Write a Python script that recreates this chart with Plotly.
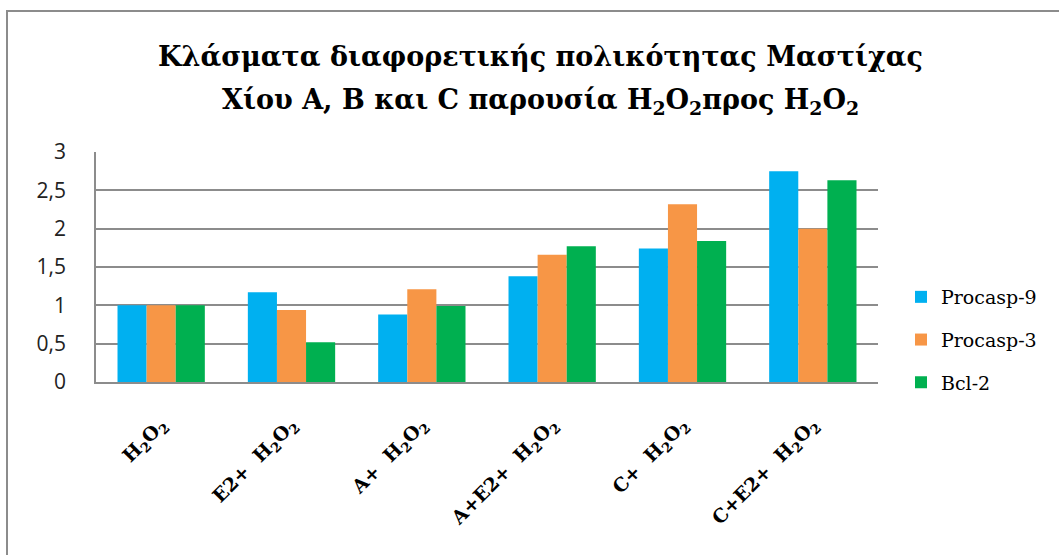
import plotly.graph_objects as go

categories = ["H<sub>2</sub>O<sub>2</sub>", "E2+  H<sub>2</sub>O<sub>2</sub>", "A+  H<sub>2</sub>O<sub>2</sub>",
              "A+E2+  H<sub>2</sub>O<sub>2</sub>", "C+  H<sub>2</sub>O<sub>2</sub>", "C+E2+  H<sub>2</sub>O<sub>2</sub>"]
procasp9 = [1.0, 1.17, 0.88, 1.38, 1.74, 2.75]
procasp3 = [1.0, 0.94, 1.21, 1.66, 2.32, 2.0]
bcl2 = [1.0, 0.52, 0.99, 1.77, 1.84, 2.63]
series_names = ["Procasp-9", "Procasp-3", "Bcl-2"]
colors = ["#00B0F0", "#F79646", "#00B050"]
y_ticks = [0, 0.5, 1, 1.5, 2, 2.5, 3]
y_labels = ["0", "0,5", "1", "1,5", "2", "2,5", "3"]
title_lines = ["<b>Κλάσματα διαφορετικής πολικότητας Μαστίχας</b>",
               "<b>Χίου A, B και C παρουσία H<sub>2</sub>O<sub>2</sub>προς H<sub>2</sub>O<sub>2</sub></b>"]

SERIF = "DejaVu Serif"
SANS = "Open Sans"

W, H = 1059, 555
L, R, T, B = 96, 1059 - 878, 152, 555 - 382
pw, ph = W - L - R, H - T - B

fig = go.Figure()
for i, (name, vals) in enumerate(zip(series_names, [procasp9, procasp3, bcl2])):
    fig.add_trace(go.Bar(x=categories, y=vals, name=name, marker_color=colors[i],
                         marker_line_width=0, legendgroup=name))

def px_x(p):
    return (p - L) / pw

def px_y(p):
    return (H - B - p) / ph

fig.update_layout(
    width=W, height=H,
    font=dict(family=SERIF),
    margin=dict(l=L, r=R, t=T, b=B, pad=0),
    paper_bgcolor="white", plot_bgcolor="white",
    barmode="group", bargap=0.33, bargroupgap=0,
    showlegend=True,
    legend=dict(x=px_x(901), y=px_y(278), xanchor="left", yanchor="top",
                font=dict(family=SERIF, size=19, color="black", weight="normal"),
                traceorder="grouped", tracegroupgap=15, itemwidth=30),
    xaxis=dict(tickangle=-45, showgrid=False, showline=True, linecolor="#8c8c8c", linewidth=2,
               ticks="", ticklabelstandoff=22,
               tickfont=dict(family=SERIF, size=19, color="black", weight="bold")),
    yaxis=dict(range=[0, 3], tickvals=y_ticks, ticktext=y_labels, showgrid=True,
               gridcolor="#8c8c8c", gridwidth=2, showline=True, linecolor="#8c8c8c", linewidth=1.5,
               ticks="", zeroline=False, ticklabelstandoff=24,
               tickfont=dict(family=SANS, size=21, color="#222222")),
    shapes=[dict(type="rect", xref="paper", yref="paper",
                 x0=px_x(7), x1=px_x(1075), y0=px_y(575), y1=px_y(11),
                 line=dict(color="#8c8c8c", width=2), fillcolor="rgba(0,0,0,0)", layer="below")],
    annotations=[
        dict(text=title_lines[0], xref="paper", yref="paper", x=px_x(540), y=px_y(57),
             xanchor="center", yanchor="middle", showarrow=False,
             font=dict(family=SERIF, size=27, color="black")),
        dict(text=title_lines[1], xref="paper", yref="paper", x=px_x(540), y=px_y(102),
             xanchor="center", yanchor="middle", showarrow=False,
             font=dict(family=SERIF, size=27, color="black")),
    ],
)

fig.write_html("out.html")
